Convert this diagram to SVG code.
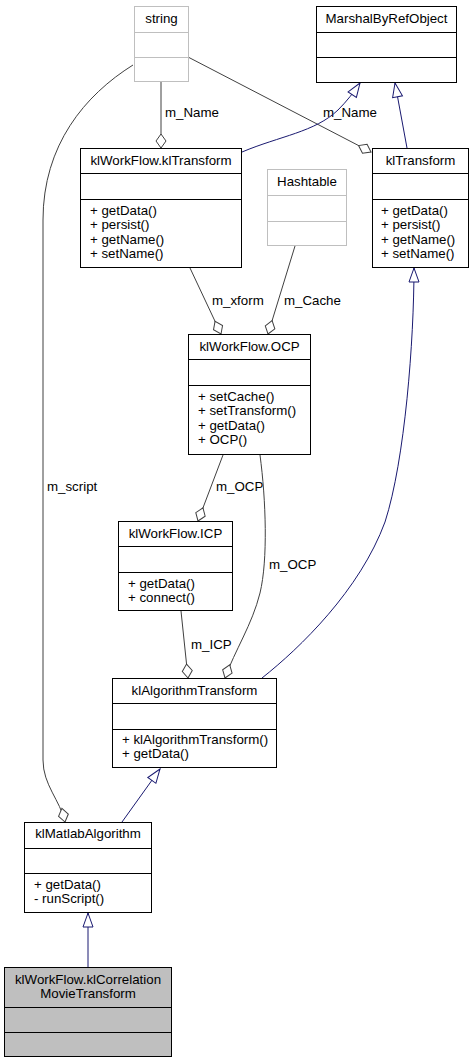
<svg xmlns="http://www.w3.org/2000/svg" width="471" height="1064" viewBox="0 0 471 1064">
<style>
text{font-family:"Liberation Sans",Arial,sans-serif;font-size:13.3px;fill:#000}
.t{text-anchor:middle}
.box{fill:#fff;stroke:#000;stroke-width:1}
.gbox{fill:#fff;stroke:#bfbfbf;stroke-width:1}
.sel{fill:#bfbfbf;stroke:#000;stroke-width:1}
.div{stroke:#000;stroke-width:1}
.gdiv{stroke:#bfbfbf;stroke-width:1}
.assoc{fill:none;stroke:#404040;stroke-width:1;marker-end:url(#dia)}
.inh{fill:none;stroke:#191970;stroke-width:1;marker-end:url(#tri)}
</style>
<defs>
<marker id="dia" markerUnits="userSpaceOnUse" markerWidth="20" markerHeight="14" viewBox="-15 -7 16 14" refX="0" refY="0" orient="auto">
<path d="M0,0 L-7,-5 L-14,0 L-7,5 Z" fill="#fff" stroke="#404040" stroke-width="1"/>
</marker>
<marker id="tri" markerUnits="userSpaceOnUse" markerWidth="20" markerHeight="14" viewBox="-15 -7 16 14" refX="0" refY="0" orient="auto">
<path d="M0,0 L-14,-5 L-14,5 Z" fill="#fff" stroke="#191970" stroke-width="1"/>
</marker>
</defs>
<rect width="471" height="1064" fill="#fff"/>

<g id="connectors">
<path class="assoc" d="M161,82 L161,148"/>
<text x="165" y="117">m_Name</text>
<path class="assoc" d="M188,57 L371,152"/>
<text x="323" y="117">m_Name</text>
<path class="inh" d="M242,152 C280,136 315,132 338,110 C347,101 354,92 360,83"/>
<path class="inh" d="M407,148 L395,83"/>
<path class="assoc" d="M190,268 L221,334"/>
<text x="212" y="305">m_xform</text>
<path class="assoc" d="M295,246 L268,334"/>
<text x="284" y="305">m_Cache</text>
<path class="assoc" d="M223,455 L198,521"/>
<text x="216" y="491">m_OCP</text>
<path class="assoc" d="M260,455 C266,500 268,560 260,593 C252,625 235,650 225,678"/>
<text x="269" y="569">m_OCP</text>
<path class="assoc" d="M181,611 L188,678"/>
<text x="191" y="649">m_ICP</text>
<path class="inh" d="M262,678 C300,648 360,590 385,522 C405,460 414,340 414,268"/>
<path class="inh" d="M122,822 L160,769"/>
<path class="assoc" d="M133,65 C85,95 43,145 43,220 L43,760 C43,785 60,800 65,822"/>
<text x="47" y="491">m_script</text>
<path class="inh" d="M88,967 L88,913"/>
</g>

<g id="string">
<rect class="gbox" x="134.5" y="6.5" width="54" height="75"/>
<line class="gdiv" x1="134.5" y1="32.5" x2="188.5" y2="32.5"/>
<line class="gdiv" x1="134.5" y1="57.5" x2="188.5" y2="57.5"/>
<text class="t" x="161.5" y="23">string</text>
</g>

<g id="MarshalByRefObject">
<rect class="box" x="316.5" y="6.5" width="140" height="76"/>
<line class="div" x1="316.5" y1="32.5" x2="456.5" y2="32.5"/>
<line class="div" x1="316.5" y1="57.5" x2="456.5" y2="57.5"/>
<text class="t" x="386.5" y="23">MarshalByRefObject</text>
</g>

<g id="klWorkFlow.klTransform">
<rect class="box" x="80.5" y="148.5" width="161" height="119"/>
<line class="div" x1="80.5" y1="173.5" x2="241.5" y2="173.5"/>
<line class="div" x1="80.5" y1="199.5" x2="241.5" y2="199.5"/>
<text class="t" x="161" y="165">klWorkFlow.klTransform</text>
<text x="90" y="215">+ getData()</text>
<text x="90" y="229.3">+ persist()</text>
<text x="90" y="243.6">+ getName()</text>
<text x="90" y="257.9">+ setName()</text>
</g>

<g id="klTransform">
<rect class="box" x="372.5" y="148.5" width="96" height="119"/>
<line class="div" x1="372.5" y1="173.5" x2="468.5" y2="173.5"/>
<line class="div" x1="372.5" y1="199.5" x2="468.5" y2="199.5"/>
<text class="t" x="420.5" y="165">klTransform</text>
<text x="381" y="215">+ getData()</text>
<text x="381" y="229.3">+ persist()</text>
<text x="381" y="243.6">+ getName()</text>
<text x="381" y="257.9">+ setName()</text>
</g>

<g id="Hashtable">
<rect class="gbox" x="267.5" y="169.5" width="79" height="76"/>
<line class="gdiv" x1="267.5" y1="195.5" x2="346.5" y2="195.5"/>
<line class="gdiv" x1="267.5" y1="221.5" x2="346.5" y2="221.5"/>
<text class="t" x="307" y="186">Hashtable</text>
</g>

<g id="klWorkFlow.OCP">
<rect class="box" x="188.5" y="334.5" width="122" height="120"/>
<line class="div" x1="188.5" y1="359.5" x2="310.5" y2="359.5"/>
<line class="div" x1="188.5" y1="385.5" x2="310.5" y2="385.5"/>
<text class="t" x="249.5" y="351">klWorkFlow.OCP</text>
<text x="198" y="401">+ setCache()</text>
<text x="198" y="415.3">+ setTransform()</text>
<text x="198" y="429.6">+ getData()</text>
<text x="198" y="443.9">+ OCP()</text>
</g>

<g id="klWorkFlow.ICP">
<rect class="box" x="118.5" y="521.5" width="114" height="89"/>
<line class="div" x1="118.5" y1="546.5" x2="232.5" y2="546.5"/>
<line class="div" x1="118.5" y1="572.5" x2="232.5" y2="572.5"/>
<text class="t" x="175.5" y="538">klWorkFlow.ICP</text>
<text x="128" y="588">+ getData()</text>
<text x="128" y="602.3">+ connect()</text>
</g>

<g id="klAlgorithmTransform">
<rect class="box" x="112.5" y="678.5" width="164" height="89"/>
<line class="div" x1="112.5" y1="703.5" x2="276.5" y2="703.5"/>
<line class="div" x1="112.5" y1="729.5" x2="276.5" y2="729.5"/>
<text class="t" x="194.5" y="695">klAlgorithmTransform</text>
<text x="122" y="744">+ klAlgorithmTransform()</text>
<text x="122" y="758.3">+ getData()</text>
</g>

<g id="klMatlabAlgorithm">
<rect class="box" x="24.5" y="822.5" width="127" height="90"/>
<line class="div" x1="24.5" y1="848.5" x2="151.5" y2="848.5"/>
<line class="div" x1="24.5" y1="873.5" x2="151.5" y2="873.5"/>
<text class="t" x="88" y="838">klMatlabAlgorithm</text>
<text x="34" y="889">+ getData()</text>
<text x="34" y="903.3">- runScript()</text>
</g>

<g id="klWorkFlow.klCorrelationMovieTransform">
<rect class="sel" x="4.5" y="967.5" width="167" height="89"/>
<line class="div" x1="4.5" y1="1007.5" x2="171.5" y2="1007.5"/>
<line class="div" x1="4.5" y1="1032.5" x2="171.5" y2="1032.5"/>
<text class="t" x="88" y="983.5">klWorkFlow.klCorrelation</text>
<text class="t" x="88" y="997.5">MovieTransform</text>
</g>
</svg>
